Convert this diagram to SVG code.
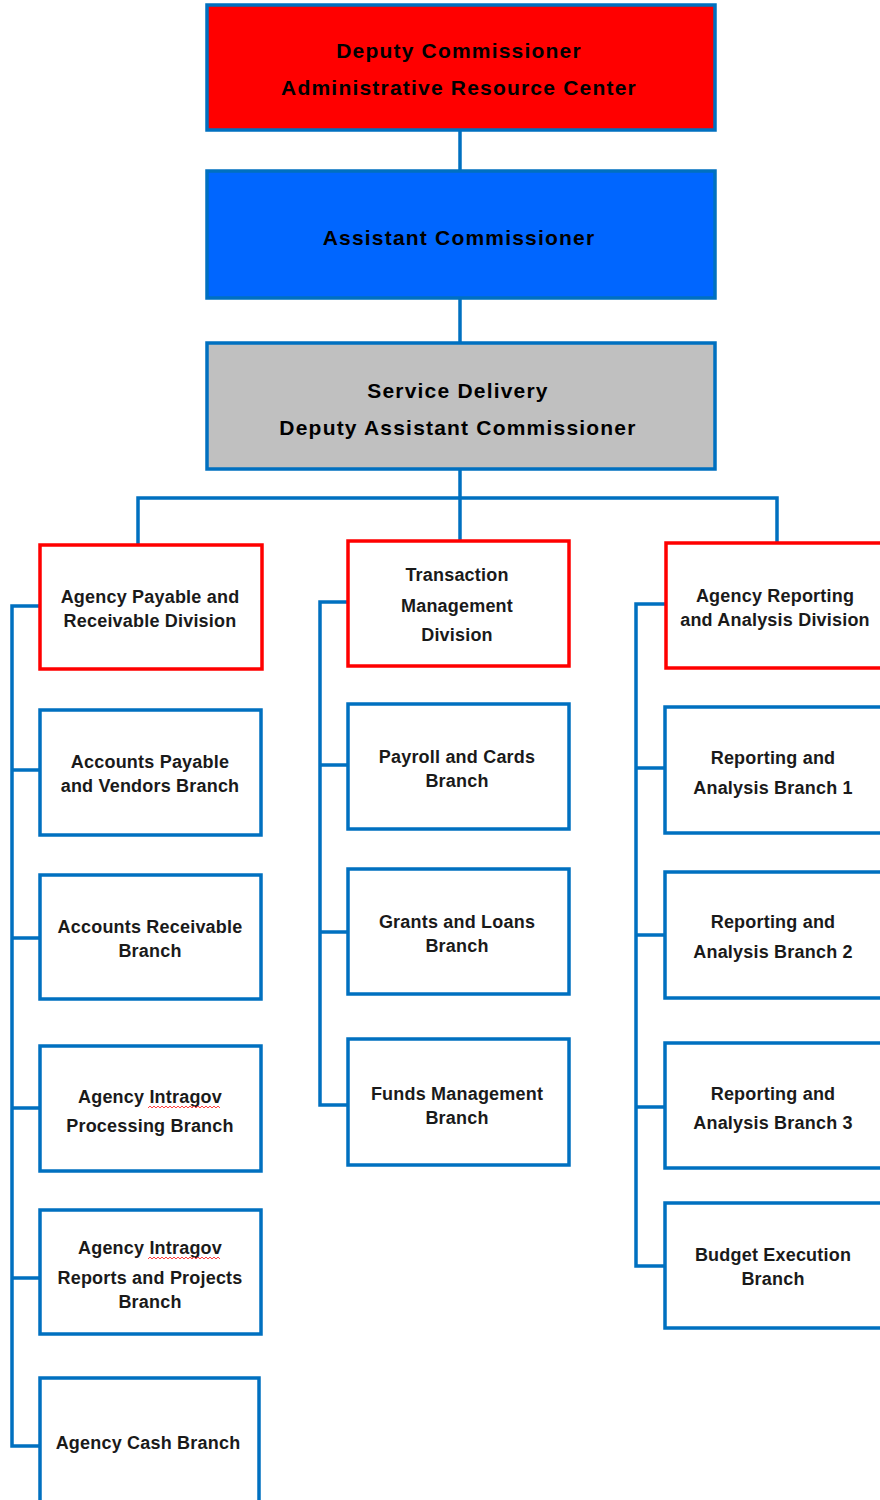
<svg xmlns="http://www.w3.org/2000/svg" width="880" height="1500" viewBox="0 0 880 1500">
<style>
.bg{fill:#ffffff}
.top{stroke:#0070C0;stroke-width:3.5}
.div{fill:#ffffff;stroke:#FF0000;stroke-width:3.5}
.br{fill:#ffffff;stroke:#0070C0;stroke-width:3.5}
.ln{fill:none;stroke:#0070C0;stroke-width:3.5;stroke-linejoin:miter}
.t1{font-family:"Liberation Sans",Arial,sans-serif;font-weight:bold;font-size:21px;letter-spacing:1.2px;fill:#000000;text-anchor:middle}
.t2{font-family:"Liberation Sans",Arial,sans-serif;font-weight:bold;font-size:18px;letter-spacing:0.2px;fill:#1a1a1a;text-anchor:middle}
.sq{fill:none;stroke:#FF4040;stroke-width:1}
</style>
<rect class="bg" x="0" y="0" width="880" height="1500"/>
<g id="connectors">
<path class="ln" d="M460 130V171"/>
<path class="ln" d="M460 298V343"/>
<path class="ln" d="M460 469V498"/>
<path class="ln" d="M138 545V498H777V543"/>
<path class="ln" d="M460 498V541"/>
<path class="ln" d="M40 606H12V1446H40"/>
<path class="ln" d="M12 770H40M12 938H40M12 1108H40M12 1278H40"/>
<path class="ln" d="M348 602H320V1105H348"/>
<path class="ln" d="M320 765H348M320 932H348"/>
<path class="ln" d="M665 604H636V1266H665"/>
<path class="ln" d="M636 768H665M636 935H665M636 1107H665"/>
</g>
<g id="deputy-commissioner">
<rect class="top" x="207" y="5" width="508" height="125" fill="#FF0000"/>
<text class="t1" x="459" y="58">Deputy Commissioner</text>
<text class="t1" x="459" y="95">Administrative Resource Center</text>
</g>
<g id="assistant-commissioner">
<rect class="top" x="207" y="171" width="508" height="127" fill="#0066FF"/>
<text class="t1" x="459" y="245">Assistant Commissioner</text>
</g>
<g id="service-delivery">
<rect class="top" x="207" y="343" width="508" height="126" fill="#C0C0C0"/>
<text class="t1" x="458" y="398">Service Delivery</text>
<text class="t1" x="458" y="435">Deputy Assistant Commissioner</text>
</g>
<g id="agency-payable-receivable">
<rect class="div" x="40" y="545" width="222" height="124"/>
<text class="t2" x="150" y="603">Agency Payable and</text>
<text class="t2" x="150" y="627">Receivable Division</text>
</g>
<g id="transaction-management">
<rect class="div" x="348" y="541" width="221" height="125"/>
<text class="t2" x="457" y="581">Transaction</text>
<text class="t2" x="457" y="612">Management</text>
<text class="t2" x="457" y="641">Division</text>
</g>
<g id="agency-reporting-analysis">
<rect class="div" x="666" y="543" width="240" height="125"/>
<text class="t2" x="775" y="602">Agency Reporting</text>
<text class="t2" x="775" y="626">and Analysis Division</text>
</g>
<g id="accounts-payable">
<rect class="br" x="40" y="710" width="221" height="125"/>
<text class="t2" x="150" y="768">Accounts Payable</text>
<text class="t2" x="150" y="792">and Vendors Branch</text>
</g>
<g id="accounts-receivable">
<rect class="br" x="40" y="875" width="221" height="124"/>
<text class="t2" x="150" y="933">Accounts Receivable</text>
<text class="t2" x="150" y="957">Branch</text>
</g>
<g id="intragov-processing">
<rect class="br" x="40" y="1046" width="221" height="125"/>
<text class="t2" x="150" y="1103">Agency Intragov</text>
<text class="t2" x="150" y="1132">Processing Branch</text>
<path class="sq" d="M148 1108l2 -2l2 2l2 -2l2 2l2 -2l2 2l2 -2l2 2l2 -2l2 2l2 -2l2 2l2 -2l2 2l2 -2l2 2l2 -2l2 2l2 -2l2 2l2 -2l2 2l2 -2l2 2l2 -2l2 2l2 -2l2 2l2 -2l2 2l2 -2l2 2l2 -2l2 2l2 -2l2 2"/>
</g>
<g id="intragov-reports">
<rect class="br" x="40" y="1210" width="221" height="124"/>
<text class="t2" x="150" y="1254">Agency Intragov</text>
<text class="t2" x="150" y="1284">Reports and Projects</text>
<text class="t2" x="150" y="1308">Branch</text>
<path class="sq" d="M148 1259l2 -2l2 2l2 -2l2 2l2 -2l2 2l2 -2l2 2l2 -2l2 2l2 -2l2 2l2 -2l2 2l2 -2l2 2l2 -2l2 2l2 -2l2 2l2 -2l2 2l2 -2l2 2l2 -2l2 2l2 -2l2 2l2 -2l2 2l2 -2l2 2l2 -2l2 2l2 -2l2 2"/>
</g>
<g id="agency-cash">
<rect class="br" x="40" y="1378" width="219" height="160"/>
<text class="t2" x="148" y="1449">Agency Cash Branch</text>
</g>
<g id="payroll-cards">
<rect class="br" x="348" y="704" width="221" height="125"/>
<text class="t2" x="457" y="763">Payroll and Cards</text>
<text class="t2" x="457" y="787">Branch</text>
</g>
<g id="grants-loans">
<rect class="br" x="348" y="869" width="221" height="125"/>
<text class="t2" x="457" y="928">Grants and Loans</text>
<text class="t2" x="457" y="952">Branch</text>
</g>
<g id="funds-management">
<rect class="br" x="348" y="1039" width="221" height="126"/>
<text class="t2" x="457" y="1100">Funds Management</text>
<text class="t2" x="457" y="1124">Branch</text>
</g>
<g id="reporting-analysis-1">
<rect class="br" x="665" y="707" width="240" height="126"/>
<text class="t2" x="773" y="764">Reporting and</text>
<text class="t2" x="773" y="794">Analysis Branch 1</text>
</g>
<g id="reporting-analysis-2">
<rect class="br" x="665" y="872" width="240" height="126"/>
<text class="t2" x="773" y="928">Reporting and</text>
<text class="t2" x="773" y="958">Analysis Branch 2</text>
</g>
<g id="reporting-analysis-3">
<rect class="br" x="665" y="1043" width="240" height="125"/>
<text class="t2" x="773" y="1100">Reporting and</text>
<text class="t2" x="773" y="1129">Analysis Branch 3</text>
</g>
<g id="budget-execution">
<rect class="br" x="665" y="1203" width="240" height="125"/>
<text class="t2" x="773" y="1261">Budget Execution</text>
<text class="t2" x="773" y="1285">Branch</text>
</g>
</svg>
